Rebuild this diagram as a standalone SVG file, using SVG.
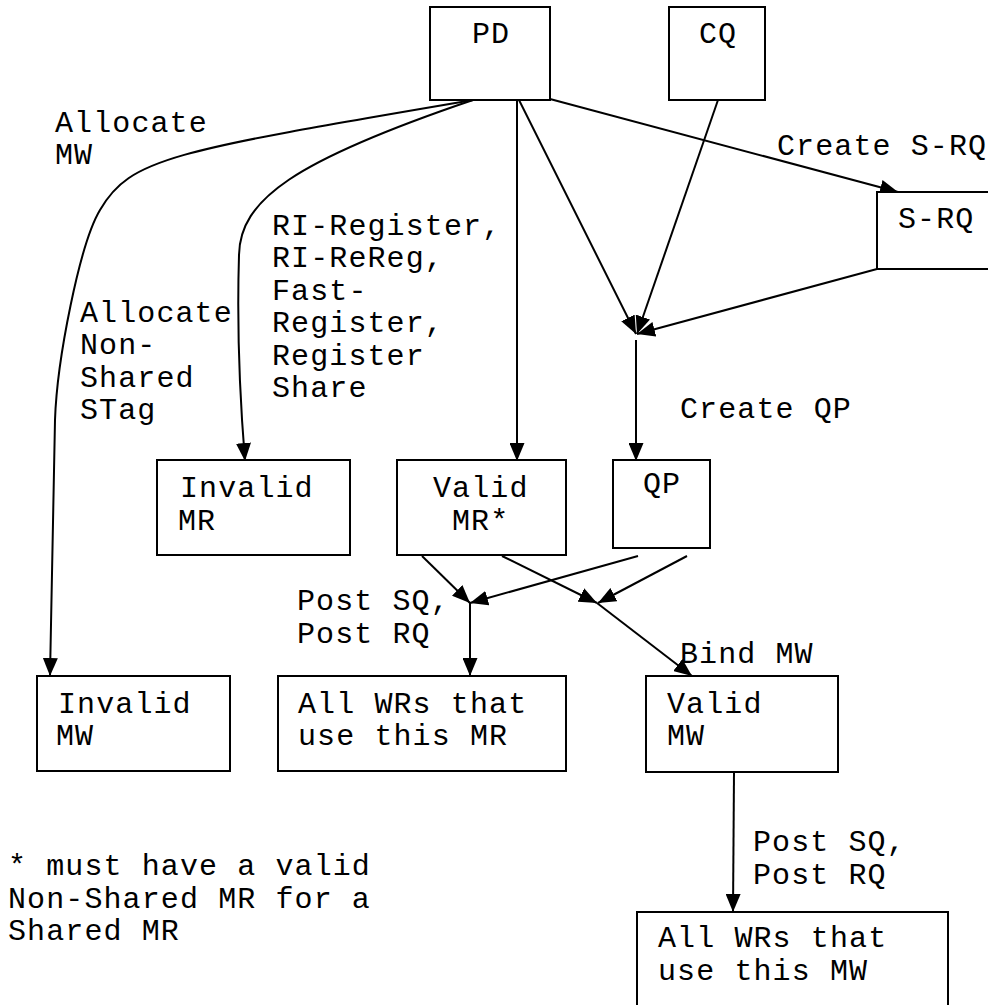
<svg xmlns="http://www.w3.org/2000/svg" width="988" height="1005" viewBox="0 0 988 1005">
  <style>
    .box { fill: #fff; stroke: #000; stroke-width: 2; }
    .edge { fill: none; stroke: #000; stroke-width: 2; marker-end: url(#arrow); }
    text { font-family: "Liberation Mono", "Courier New", monospace; font-size: 30px; letter-spacing: 1.1px; fill: #000; }
  </style>
  <defs>
    <marker id="arrow" viewBox="0 0 18 15" refX="18" refY="7.5" markerWidth="18" markerHeight="15" markerUnits="userSpaceOnUse" orient="auto">
      <path d="M0,0 L18,7.5 L0,15 z" fill="#000"/>
    </marker>
  </defs>
  <rect width="988" height="1005" fill="#fff"/>

  <!-- connectors -->
  <g id="connectors">
    <path class="edge" d="M473,100 C173,151 130,158 100,210 C79.6,244 57,360 55,420 L50,676"/>
    <path class="edge" d="M473,100 C293,161 240,200 239,255 C237,320 240,400 245,461"/>
    <path class="edge" d="M517,100 L517,461"/>
    <path class="edge" d="M519,100 L636,334"/>
    <path class="edge" d="M718,100 L637,334"/>
    <path class="edge" d="M550,99 L898,192"/>
    <path class="edge" d="M877,269 L637,334"/>
    <path class="edge" d="M636,340 L636,461"/>
    <path class="edge" d="M422,556 L470,603"/>
    <path class="edge" d="M638,556 L470,603"/>
    <path class="edge" d="M470,603 L470,676"/>
    <path class="edge" d="M502,556 L597,603"/>
    <path class="edge" d="M687,556 L598,603"/>
    <path class="edge" d="M597,603 L692,676"/>
    <path class="edge" d="M734,772 L733,912"/>
  </g>

  <!-- connector labels -->
  <g id="labels">
    <text x="55" y="132">Allocate</text>
    <text x="55" y="164">MW</text>
    <text x="272" y="235">RI-Register,</text>
    <text x="272" y="267">RI-ReReg,</text>
    <text x="272" y="300">Fast-</text>
    <text x="272" y="332">Register,</text>
    <text x="272" y="365">Register</text>
    <text x="272" y="397">Share</text>
    <text x="80" y="322">Allocate</text>
    <text x="80" y="354">Non-</text>
    <text x="80" y="387">Shared</text>
    <text x="80" y="419">STag</text>
    <text x="777" y="155">Create S-RQ</text>
    <text x="680" y="418">Create QP</text>
    <text x="297" y="610">Post SQ,</text>
    <text x="297" y="643">Post RQ</text>
    <text x="680" y="663">Bind MW</text>
    <text x="753" y="851">Post SQ,</text>
    <text x="753" y="884">Post RQ</text>
  </g>

  <!-- nodes -->
  <g id="node-pd">
    <rect class="box" x="430" y="7" width="120" height="93"/>
    <text x="472" y="43">PD</text>
  </g>
  <g id="node-cq">
    <rect class="box" x="669" y="7" width="96" height="93"/>
    <text x="699" y="43">CQ</text>
  </g>
  <g id="node-srq">
    <rect class="box" x="877" y="192" width="130" height="77"/>
    <text x="898" y="228">S-RQ</text>
  </g>
  <g id="node-invalid-mr">
    <rect class="box" x="157" y="460" width="193" height="95"/>
    <text x="180" y="497">Invalid</text>
    <text x="178" y="530">MR</text>
  </g>
  <g id="node-valid-mr">
    <rect class="box" x="397" y="460" width="169" height="95"/>
    <text x="433" y="497">Valid</text>
    <text x="452" y="530">MR*</text>
  </g>
  <g id="node-qp">
    <rect class="box" x="613" y="460" width="97" height="88"/>
    <text x="643" y="493">QP</text>
  </g>
  <g id="node-invalid-mw">
    <rect class="box" x="37" y="676" width="193" height="95"/>
    <text x="58" y="713">Invalid</text>
    <text x="56" y="745">MW</text>
  </g>
  <g id="node-wrs-mr">
    <rect class="box" x="278" y="676" width="288" height="95"/>
    <text x="298" y="713">All WRs that</text>
    <text x="298" y="745">use this MR</text>
  </g>
  <g id="node-valid-mw">
    <rect class="box" x="646" y="676" width="192" height="96"/>
    <text x="667" y="713">Valid</text>
    <text x="667" y="745">MW</text>
  </g>
  <g id="node-wrs-mw">
    <rect class="box" x="637" y="912" width="311" height="110"/>
    <text x="658" y="947">All WRs that</text>
    <text x="658" y="980">use this MW</text>
  </g>

  <!-- footnote -->
  <g id="footnote">
    <text x="8" y="875">* must have a valid</text>
    <text x="8" y="908">Non-Shared MR for a</text>
    <text x="8" y="940">Shared MR</text>
  </g>
</svg>
